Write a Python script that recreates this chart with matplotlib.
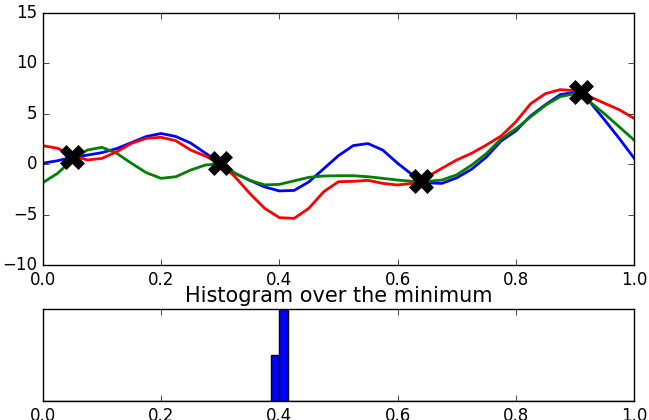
import numpy as np
import matplotlib
matplotlib.use("Agg")
import matplotlib.pyplot as plt

plt.style.use("classic")

# x every 0.025
xs = np.arange(41) * 0.025

blue = [0.1, 0.35, 0.7, 0.9, 1.15, 1.55, 2.15, 2.75, 3.05, 2.75, 2.1, 1.1, 0.1,
        -0.9, -1.6, -2.25, -2.65, -2.6, -1.75, -0.45, 0.85, 1.85, 2.05, 1.4, 0.1,
        -1.05, -1.85, -1.9, -1.35, -0.5, 0.7, 2.3, 3.3, 4.8, 5.9, 6.9, 7.15,
        6.2, 4.4, 2.55, 0.6]
green = [-1.83, -0.9, 0.45, 1.4, 1.68, 1.08, 0.09, -0.84, -1.4, -1.24, -0.58, -0.08, 0.05,
         -0.9, -1.6, -2.05, -2.0, -1.65, -1.3, -1.17, -1.14, -1.14, -1.24, -1.4, -1.57,
         -1.7, -1.7, -1.57, -1.05, -0.1, 1.05, 2.5, 3.5, 4.7, 5.85, 6.7, 7.0,
         6.2, 5.0, 3.7, 2.4]
red = [1.84, 1.58, 0.9, 0.42, 0.58, 1.24, 2.07, 2.57, 2.67, 2.33, 1.41, 0.8, 0.1,
       -1.24, -2.9, -4.37, -5.3, -5.37, -4.37, -2.73, -1.73, -1.7, -1.6, -1.9, -2.06,
       -1.9, -1.25, -0.4, 0.42, 1.08, 1.9, 2.8, 4.2, 6.0, 7.0, 7.4, 7.3,
       6.7, 6.05, 5.4, 4.55]

obs_x = [0.05, 0.3, 0.64, 0.91]
obs_y = [0.7, 0.1, -1.7, 7.2]

minima = [0.39, 0.41, 0.41]

fig = plt.figure(figsize=(6.49, 4.2), dpi=100)

ax1 = fig.add_axes([0.066, 0.369, 0.911, 0.600])
ax1.plot(xs, blue, color="b", lw=2)
ax1.plot(xs, green, color="g", lw=2)
ax1.plot(xs, red, color="r", lw=2)
ax1.plot(obs_x, obs_y, "kX", markersize=17, mew=0.5)
ax1.set_xlim(0, 1)
ax1.set_ylim(-10, 15)

ax2 = fig.add_axes([0.066, 0.045, 0.911, 0.219])
ax2.hist(minima, bins=np.linspace(0, 1, 71), color="b", edgecolor="k")
ax2.set_xlim(0, 1)
ax2.set_ylim(0, 2)
ax2.set_yticks([])
ax2.set_title("Histogram over the minimum", fontsize=15, y=1.0)

fig.savefig("out.png", dpi=100)
